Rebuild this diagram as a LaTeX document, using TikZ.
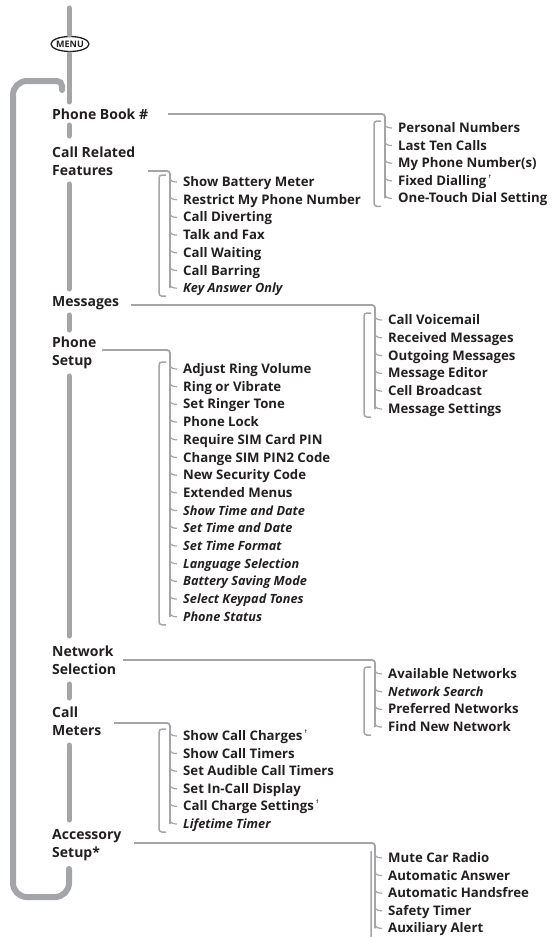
\documentclass[tikz,border=0pt]{standalone}
\usepackage{fontspec}
\setmainfont{Open Sans}
\usepackage{xcolor}
\usepackage{tikz}
\usetikzlibrary{shapes.geometric}
\definecolor{menu_gray}{RGB}{163, 165, 168}
\definecolor{menu_text}{RGB}{35, 31, 32}
\newcommand\menuopt[1]{{\fontsize{12.7}{14}\selectfont\itshape #1}}
\newcommand\dagnote{\,\raisebox{7pt}{\fontsize{5}{5}\selectfont †}}

\begin{document}
\begin{tikzpicture}[x=1pt, y=-1pt,
    spine/.style={line width=5pt, menu_gray, line cap=round},
    loopbar/.style={line width=6pt, menu_gray, line cap=round, rounded corners=14pt},
    conn/.style={line width=1.8pt, menu_gray, rounded corners=3pt},
    brk/.style={line width=1.5pt, menu_gray, rounded corners=3pt},
    tick/.style={line width=1.2pt, menu_gray},
    top/.style={anchor=west, inner sep=0pt, align=left, text=menu_text,
                font=\fontsize{14}{18.5}\selectfont\bfseries},
    item/.style={anchor=west, inner sep=0pt, text height=9.5pt, text depth=0.5pt,
                 text=menu_text, font=\fontsize{13.2}{15}\selectfont\bfseries},
  ]
  \useasboundingbox (0,0) rectangle (554,937);
  \clip (0,0) rectangle (554,937);

  % Menu key and main spine
  \node[inner sep=0pt, text=menu_text, font=\fontsize{9}{9}\selectfont\bfseries] (menu) at (70,44) {MENU};
  \draw[line width=1.3pt, menu_text] (menu.center) ellipse [x radius=19pt, y radius=7.5pt];
  \draw[spine] (69,8) -- (69,35);
  \draw[spine] (69,54) -- (69,102);
  \draw[spine] (69,125) -- (69,136);
  \draw[spine] (69,184) -- (69,289);
  \draw[spine] (69,315) -- (69,330);
  \draw[spine] (69,376) -- (69,636);
  \draw[spine] (69,684) -- (69,698);
  \draw[spine] (69,745) -- (69,820);

  % Return loop
  \draw[loopbar] (69,869) -- (69,897) -- (13,897) -- (13,81)
    [rounded corners=5pt] -- (62,81) -- (62,90);

  % Main menu entries
  \node[top] (pb) at (52,114) {Phone Book \#};
  \node[top] (cr) at (52,161) {Call Related\\Features};
  \node[top] (ms) at (52,303) {Messages};
  \node[top] (ps) at (52,353) {Phone\\Setup};
  \node[top] (ns) at (52,660) {Network\\Selection};
  \node[top] (cm) at (52,721) {Call\\Meters};
  \node[top] (as) at (52,845) {Accessory\\Setup*};

  % Start points of the branch lines
  \coordinate (pbL) at (168,114);
  \coordinate (crL) at (148,171);
  \coordinate (msL) at (131,305);
  \coordinate (psL) at (102,350);
  \coordinate (nsL) at (123,660);
  \coordinate (cmL) at (114,723);
  \coordinate (asL) at (134,843);

  % Phone Book
  \foreach \t [count=\i] in {Personal Numbers, Last Ten Calls, My Phone Number(s),
      Fixed Dialling\dagnote, One-Touch Dial Setting}
    \node[item] (pb\i) at (398,{128+17.6*(\i-1)}) {\t};
  \draw[conn] (pbL) -| ([xshift=-13pt]pb5.west);
  \foreach \i in {1,...,5}
    \draw[tick] ([xshift=-13pt,yshift=4pt]pb\i.west) to[out=-90,in=180] ([xshift=-6pt]pb\i.west);
  \draw[brk] ([xshift=-17pt,yshift=7pt]pb1.west) -| ([xshift=-24pt,yshift=-8pt]pb5.west) -- ++(7pt,0);

  % Call Related Features
  \foreach \t [count=\i] in {Show Battery Meter, Restrict My Phone Number, Call Diverting,
      Talk and Fax, Call Waiting, Call Barring, \menuopt{Key Answer Only}}
    \node[item] (cr\i) at (183,{182+17.7*(\i-1)}) {\t};
  \draw[conn] (crL) -| ([xshift=-13pt]cr7.west);
  \foreach \i in {1,...,7}
    \draw[tick] ([xshift=-13pt,yshift=4pt]cr\i.west) to[out=-90,in=180] ([xshift=-6pt]cr\i.west);
  \draw[brk] ([xshift=-17pt,yshift=7pt]cr1.west) -| ([xshift=-24pt,yshift=-8pt]cr7.west) -- ++(7pt,0);

  % Messages
  \foreach \t [count=\i] in {Call Voicemail, Received Messages, Outgoing Messages,
      Message Editor, Cell Broadcast, Message Settings}
    \node[item] (ms\i) at (388,{320+17.8*(\i-1)}) {\t};
  \draw[conn] (msL) -| ([xshift=-13pt]ms6.west);
  \foreach \i in {1,...,6}
    \draw[tick] ([xshift=-13pt,yshift=4pt]ms\i.west) to[out=-90,in=180] ([xshift=-6pt]ms\i.west);
  \draw[brk] ([xshift=-17pt,yshift=7pt]ms1.west) -| ([xshift=-24pt,yshift=-8pt]ms6.west) -- ++(7pt,0);

  % Phone Setup
  \foreach \t [count=\i] in {Adjust Ring Volume, Ring or Vibrate, Set Ringer Tone, Phone Lock,
      Require SIM Card PIN, Change SIM PIN2 Code, New Security Code, Extended Menus,
      \menuopt{Show Time and Date}, \menuopt{Set Time and Date}, \menuopt{Set Time Format},
      \menuopt{Language Selection}, \menuopt{Battery Saving Mode},
      \menuopt{Select Keypad Tones}, \menuopt{Phone Status}}
    \node[item] (ps\i) at (183,{369+17.7*(\i-1)}) {\t};
  \draw[conn] (psL) -| ([xshift=-13pt]ps15.west);
  \foreach \i in {1,...,15}
    \draw[tick] ([xshift=-13pt,yshift=4pt]ps\i.west) to[out=-90,in=180] ([xshift=-6pt]ps\i.west);
  \draw[brk] ([xshift=-17pt,yshift=7pt]ps1.west) -| ([xshift=-24pt,yshift=-8pt]ps15.west) -- ++(7pt,0);

  % Network Selection
  \foreach \t [count=\i] in {Available Networks, \menuopt{Network Search},
      Preferred Networks, Find New Network}
    \node[item] (ns\i) at (388,{674+17.7*(\i-1)}) {\t};
  \draw[conn] (nsL) -| ([xshift=-13pt]ns4.west);
  \foreach \i in {1,...,4}
    \draw[tick] ([xshift=-13pt,yshift=4pt]ns\i.west) to[out=-90,in=180] ([xshift=-6pt]ns\i.west);
  \draw[brk] ([xshift=-17pt,yshift=7pt]ns1.west) -| ([xshift=-24pt,yshift=-8pt]ns4.west) -- ++(7pt,0);

  % Call Meters
  \foreach \t [count=\i] in {Show Call Charges\dagnote, Show Call Timers,
      Set Audible Call Timers, Set In-Call Display, Call Charge Settings\dagnote,
      \menuopt{Lifetime Timer}}
    \node[item] (cm\i) at (183,{736+17.6*(\i-1)}) {\t};
  \draw[conn] (cmL) -| ([xshift=-13pt]cm6.west);
  \foreach \i in {1,...,6}
    \draw[tick] ([xshift=-13pt,yshift=4pt]cm\i.west) to[out=-90,in=180] ([xshift=-6pt]cm\i.west);
  \draw[brk] ([xshift=-17pt,yshift=7pt]cm1.west) -| ([xshift=-24pt,yshift=-8pt]cm6.west) -- ++(7pt,0);

  % Accessory Setup
  \foreach \t [count=\i] in {Mute Car Radio, Automatic Answer, Automatic Handsfree,
      Safety Timer, Auxiliary Alert}
    \node[item] (as\i) at (388,{858+17.6*(\i-1)}) {\t};
  \draw[conn] (asL) -| ([xshift=-13pt]as5.west);
  \foreach \i in {1,...,5}
    \draw[tick] ([xshift=-13pt,yshift=4pt]as\i.west) to[out=-90,in=180] ([xshift=-6pt]as\i.west);
  \draw[brk] ([xshift=-17pt,yshift=7pt]as1.west) |- ([xshift=-24pt,yshift=-20pt]as5.west);
\end{tikzpicture}
\end{document}
